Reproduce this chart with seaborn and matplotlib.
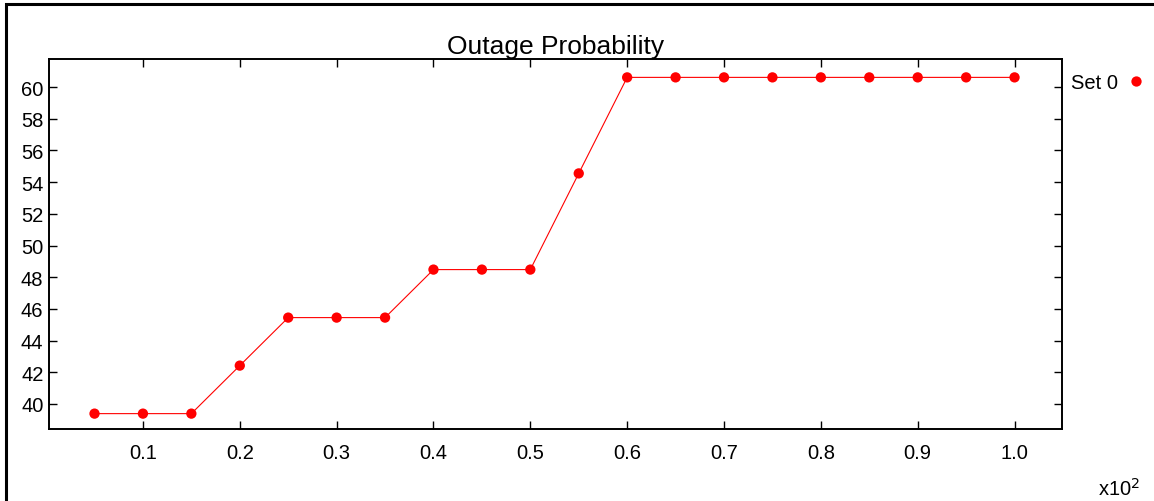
import matplotlib
matplotlib.use("Agg")
import matplotlib.pyplot as plt
import matplotlib.patches as patches
import numpy as np
import pandas as pd
import seaborn as sns

# Scaled x (x10^2) and outage probability values
LOAD: list[float] = [0.05, 0.10, 0.15, 0.20, 0.25, 0.30, 0.35, 0.40, 0.45, 0.50,
                     0.55, 0.60, 0.65, 0.70, 0.75, 0.80, 0.85, 0.90, 0.95, 1.00]
OUTAGE: list[float] = [39.39, 39.39, 39.39, 42.42, 45.45, 45.45, 45.45, 48.48, 48.48, 48.48,
                       54.55, 60.61, 60.61, 60.61, 60.61, 60.61, 60.61, 60.61, 60.61, 60.61]
SERIES: str = "Set 0"
X_TICKS: list[float] = [0.1, 0.2, 0.3, 0.4, 0.5, 0.6, 0.7, 0.8, 0.9, 1.0]
Y_TICKS: list[int] = [40, 42, 44, 46, 48, 50, 52, 54, 56, 58, 60]


def main() -> None:
    sns.set_style("ticks")
    plt.rcParams["font.family"] = ["Liberation Sans", "DejaVu Sans"]
    plt.rcParams["text.color"] = "black"

    data = pd.DataFrame({"x": LOAD, "y": OUTAGE, "series": SERIES})

    fig = plt.figure(figsize=(11.54, 5.02), dpi=100)
    ax = fig.add_axes([49 / 1154, 1 - 430 / 502, (1062 - 49) / 1154, (430 - 60) / 502])

    sns.lineplot(data=data, x="x", y="y", color="red", linewidth=0.8, ax=ax, legend=False)
    sns.scatterplot(data=data, x="x", y="y", hue="series", palette=["red"], s=55,
                    edgecolor="none", ax=ax)

    ax.set_xlim(0.003, 1.049)
    ax.set_ylim(38.42, 61.77)
    ax.set_xticks(X_TICKS)
    ax.set_xticklabels([f"{t:.1f}" for t in X_TICKS])
    ax.set_yticks(Y_TICKS)
    ax.set_xlabel("")
    ax.set_ylabel("")
    ax.set_title("Outage Probability", fontsize=19, pad=4, color="black")

    for side in ("top", "right", "bottom", "left"):
        ax.spines[side].set_visible(True)
        ax.spines[side].set_linewidth(1.4)
        ax.spines[side].set_color("black")
    ax.tick_params(direction="in", length=6, width=1, labelsize=14.5,
                   top=True, right=True, colors="black")
    ax.tick_params(axis="x", pad=10)
    ax.tick_params(axis="y", pad=4)

    ax.legend(loc="upper left", bbox_to_anchor=(1.0, 0.986), frameon=False, markerfirst=False,
              fontsize=14.5, handlelength=1.0, handletextpad=0.4, borderaxespad=0.05)

    fig.text(1098 / 1154, 1 - 496 / 502, "x10$^2$", fontsize=14.5, ha="left", va="baseline")

    frame = patches.Rectangle((6 / 1154, -0.2), 1.2, 1.2 - 5 / 502, transform=fig.transFigure,
                              fill=False, edgecolor="black", linewidth=2.2, clip_on=False)
    fig.add_artist(frame)

    fig.savefig("out.png", dpi=100)


if __name__ == "__main__":
    main()
